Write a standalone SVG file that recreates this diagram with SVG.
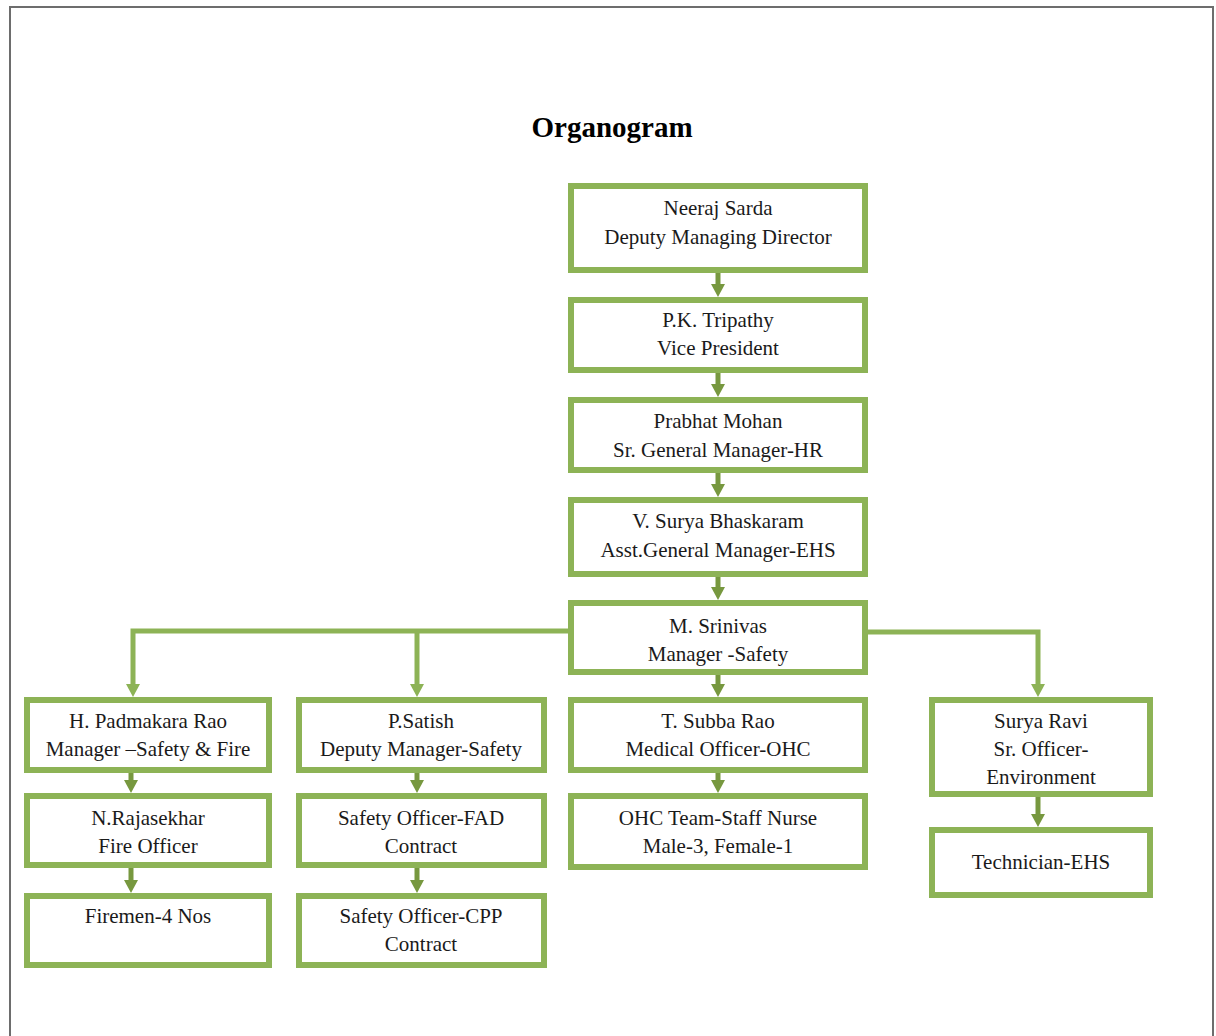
<svg xmlns="http://www.w3.org/2000/svg" width="1216" height="1036" viewBox="0 0 1216 1036">
<style>
.box{fill:#ffffff;stroke:#8db356;stroke-width:6}
.t{font-family:"Liberation Serif","Times New Roman",serif;font-size:21px;fill:#1a1a1a;text-anchor:middle}
.title{font-family:"Liberation Serif","Times New Roman",serif;font-size:29px;font-weight:bold;fill:#000;text-anchor:middle}
.short{fill:none;stroke:#77983f;stroke-width:5}
.long{fill:none;stroke:#8db356;stroke-width:5}
</style>
<defs>
<marker id="ad" viewBox="0 0 13 14" markerWidth="13" markerHeight="14" refX="3" refY="7" orient="auto" markerUnits="userSpaceOnUse"><path d="M0,0 L13,7 L0,14 z" fill="#77983f"/></marker>
<marker id="al" viewBox="0 0 13 14" markerWidth="13" markerHeight="14" refX="3" refY="7" orient="auto" markerUnits="userSpaceOnUse"><path d="M0,0 L13,7 L0,14 z" fill="#8db356"/></marker>
</defs>
<rect x="10" y="7" width="1203" height="1100" fill="#fff" stroke="#6d6d6d" stroke-width="2"/>
<text class="title" x="612" y="137">Organogram</text>
<g id="connectors">
<path class="short" d="M718,273 V287" marker-end="url(#ad)"/>
<path class="short" d="M718,373 V387" marker-end="url(#ad)"/>
<path class="short" d="M718,473 V487" marker-end="url(#ad)"/>
<path class="short" d="M718,577 V590" marker-end="url(#ad)"/>
<path class="short" d="M718,675 V687" marker-end="url(#ad)"/>
<path class="short" d="M718,773 V783" marker-end="url(#ad)"/>
<path class="short" d="M131,773 V783" marker-end="url(#ad)"/>
<path class="short" d="M131,868 V883" marker-end="url(#ad)"/>
<path class="short" d="M417,773 V783" marker-end="url(#ad)"/>
<path class="short" d="M417,868 V883" marker-end="url(#ad)"/>
<path class="short" d="M1038,797 V817" marker-end="url(#ad)"/>
<path class="long" d="M568,631 H133 V687" marker-end="url(#al)"/>
<path class="long" d="M417,631 V687" marker-end="url(#al)"/>
<path class="long" d="M868,632 H1038 V687" marker-end="url(#al)"/>
</g>
<g id="n1"><rect class="box" x="571" y="186" width="294" height="84"/><text class="t" x="718" y="215">Neeraj Sarda</text><text class="t" x="718" y="244">Deputy Managing Director</text></g>
<g id="n2"><rect class="box" x="571" y="300" width="294" height="70"/><text class="t" x="718" y="327">P.K. Tripathy</text><text class="t" x="718" y="355">Vice President</text></g>
<g id="n3"><rect class="box" x="571" y="400" width="294" height="70"/><text class="t" x="718" y="428">Prabhat Mohan</text><text class="t" x="718" y="457">Sr. General Manager-HR</text></g>
<g id="n4"><rect class="box" x="571" y="500" width="294" height="74"/><text class="t" x="718" y="528">V. Surya Bhaskaram</text><text class="t" x="718" y="557">Asst.General Manager-EHS</text></g>
<g id="n5"><rect class="box" x="571" y="603" width="294" height="69"/><text class="t" x="718" y="633">M. Srinivas</text><text class="t" x="718" y="661">Manager -Safety</text></g>
<g id="n6"><rect class="box" x="27" y="700" width="242" height="70"/><text class="t" x="148" y="728">H. Padmakara Rao</text><text class="t" x="148" y="756">Manager –Safety &amp; Fire</text></g>
<g id="n7"><rect class="box" x="27" y="796" width="242" height="69"/><text class="t" x="148" y="825">N.Rajasekhar</text><text class="t" x="148" y="853">Fire Officer</text></g>
<g id="n8"><rect class="box" x="27" y="896" width="242" height="69"/><text class="t" x="148" y="923">Firemen-4 Nos</text></g>
<g id="n9"><rect class="box" x="299" y="700" width="245" height="70"/><text class="t" x="421" y="728">P.Satish</text><text class="t" x="421" y="756">Deputy Manager-Safety</text></g>
<g id="n10"><rect class="box" x="299" y="796" width="245" height="69"/><text class="t" x="421" y="825">Safety Officer-FAD</text><text class="t" x="421" y="853">Contract</text></g>
<g id="n11"><rect class="box" x="299" y="896" width="245" height="69"/><text class="t" x="421" y="923">Safety Officer-CPP</text><text class="t" x="421" y="951">Contract</text></g>
<g id="n12"><rect class="box" x="571" y="700" width="294" height="70"/><text class="t" x="718" y="728">T. Subba Rao</text><text class="t" x="718" y="756">Medical Officer-OHC</text></g>
<g id="n13"><rect class="box" x="571" y="796" width="294" height="71"/><text class="t" x="718" y="825">OHC Team-Staff Nurse</text><text class="t" x="718" y="853">Male-3, Female-1</text></g>
<g id="n14"><rect class="box" x="932" y="700" width="218" height="94"/><text class="t" x="1041" y="728">Surya Ravi</text><text class="t" x="1041" y="756">Sr. Officer-</text><text class="t" x="1041" y="784">Environment</text></g>
<g id="n15"><rect class="box" x="932" y="830" width="218" height="65"/><text class="t" x="1041" y="869">Technician-EHS</text></g>
</svg>
